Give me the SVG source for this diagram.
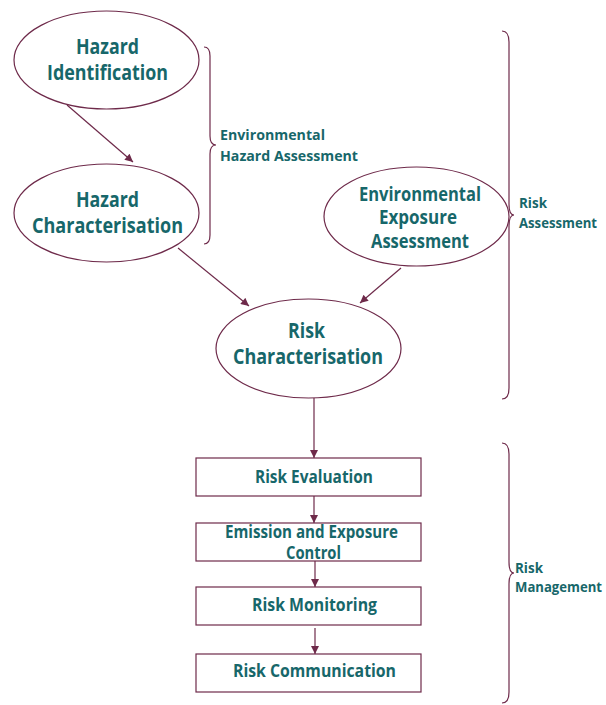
<svg xmlns="http://www.w3.org/2000/svg" width="606" height="705" viewBox="0 0 606 705">
<style>
.n{fill:#ffffff;stroke:#6e2a4a;stroke-width:1.2}
.c{fill:none;stroke:#6e2a4a;stroke-width:1.2}
.b{fill:none;stroke:#6e2a4a;stroke-width:1.2}
text{font-family:"Open Sans","Liberation Sans",sans-serif;font-weight:700;fill:#17676a}
.t1{font-size:21px;text-anchor:middle}
.t1s{font-size:20px;text-anchor:middle}
.t2{font-size:17px;text-anchor:middle}
.t3{font-size:14.5px}
</style>
<defs>
<marker id="ah" viewBox="0 0 10 10" refX="10" refY="5" markerWidth="9" markerHeight="8" markerUnits="userSpaceOnUse" orient="auto">
<path d="M0,0 L10,5 L0,10 z" fill="#6e2a4a"/>
</marker>
</defs>
<g id="connectors">
<line class="c" x1="67" y1="105" x2="133" y2="162" marker-end="url(#ah)"/>
<line class="c" x1="178" y1="248" x2="249" y2="306" marker-end="url(#ah)"/>
<line class="c" x1="401" y1="268" x2="360" y2="303" marker-end="url(#ah)"/>
<line class="c" x1="314" y1="398" x2="314" y2="458" marker-end="url(#ah)"/>
<line class="c" x1="314" y1="496" x2="314" y2="523" marker-end="url(#ah)"/>
<line class="c" x1="315" y1="561" x2="315" y2="587" marker-end="url(#ah)"/>
<line class="c" x1="315" y1="628" x2="315" y2="654" marker-end="url(#ah)"/>
</g>
<g id="hazard-identification">
<ellipse class="n" cx="106.5" cy="60" rx="92.5" ry="49"/>
<text class="t1" x="107.5" y="54" textLength="63" lengthAdjust="spacingAndGlyphs">Hazard</text>
<text class="t1" x="107.5" y="80" textLength="121" lengthAdjust="spacingAndGlyphs">Identification</text>
</g>
<g id="hazard-characterisation">
<ellipse class="n" cx="106.5" cy="213" rx="92.5" ry="49"/>
<text class="t1" x="107.5" y="207" textLength="63" lengthAdjust="spacingAndGlyphs">Hazard</text>
<text class="t1" x="107.5" y="233" textLength="151" lengthAdjust="spacingAndGlyphs">Characterisation</text>
</g>
<g id="environmental-exposure-assessment">
<ellipse class="n" cx="416.5" cy="216.5" rx="92.5" ry="49.5"/>
<text class="t1s" x="420" y="201" textLength="122" lengthAdjust="spacingAndGlyphs">Environmental</text>
<text class="t1s" x="418" y="224" textLength="78" lengthAdjust="spacingAndGlyphs">Exposure</text>
<text class="t1s" x="420" y="248" textLength="98" lengthAdjust="spacingAndGlyphs">Assessment</text>
</g>
<g id="risk-characterisation">
<ellipse class="n" cx="308.5" cy="348.5" rx="92.5" ry="49.5"/>
<text class="t1" x="306.5" y="338" textLength="37" lengthAdjust="spacingAndGlyphs">Risk</text>
<text class="t1" x="308" y="364" textLength="150" lengthAdjust="spacingAndGlyphs">Characterisation</text>
</g>
<g id="risk-evaluation">
<rect class="n" x="196" y="458" width="225" height="38"/>
<text class="t2" x="314" y="483" textLength="118" lengthAdjust="spacingAndGlyphs">Risk Evaluation</text>
</g>
<g id="emission-exposure-control">
<rect class="n" x="196" y="523" width="225" height="38"/>
<text class="t2" x="311.5" y="538" textLength="173" lengthAdjust="spacingAndGlyphs">Emission and Exposure</text>
<text class="t2" x="313.5" y="559" textLength="55" lengthAdjust="spacingAndGlyphs">Control</text>
</g>
<g id="risk-monitoring">
<rect class="n" x="196" y="587" width="225" height="38"/>
<text class="t2" x="314.5" y="611" textLength="125" lengthAdjust="spacingAndGlyphs">Risk Monitoring</text>
</g>
<g id="risk-communication">
<rect class="n" x="196" y="654" width="225" height="38"/>
<text class="t2" x="314.5" y="677" textLength="163" lengthAdjust="spacingAndGlyphs">Risk Communication</text>
</g>
<g id="environmental-hazard-assessment">
<path class="b" d="M204,47 Q210,47 210,56 L210,136 Q210,145 216,145 Q210,145 210,154 L210,235 Q210,244 204,244"/>
<text class="t3" x="220" y="140" textLength="105" lengthAdjust="spacingAndGlyphs">Environmental</text>
<text class="t3" x="220" y="161" textLength="138" lengthAdjust="spacingAndGlyphs">Hazard Assessment</text>
</g>
<g id="risk-assessment">
<path class="b" d="M502,31 Q509,31 509,42 L509,204 Q509,215 514,215 Q509,215 509,226 L509,388 Q509,399 502,399"/>
<text class="t3" x="519" y="208" textLength="28" lengthAdjust="spacingAndGlyphs">Risk</text>
<text class="t3" x="519" y="228" textLength="78" lengthAdjust="spacingAndGlyphs">Assessment</text>
</g>
<g id="risk-management">
<path class="b" d="M502,443 Q509,443 509,454 L509,562 Q509,573 514,573 Q509,573 509,584 L509,692 Q509,703 502,703"/>
<text class="t3" x="515" y="573" textLength="28" lengthAdjust="spacingAndGlyphs">Risk</text>
<text class="t3" x="515" y="592" font-size="13.5" style="font-size:13.5px" textLength="87" lengthAdjust="spacingAndGlyphs">Management</text>
</g>
</svg>
